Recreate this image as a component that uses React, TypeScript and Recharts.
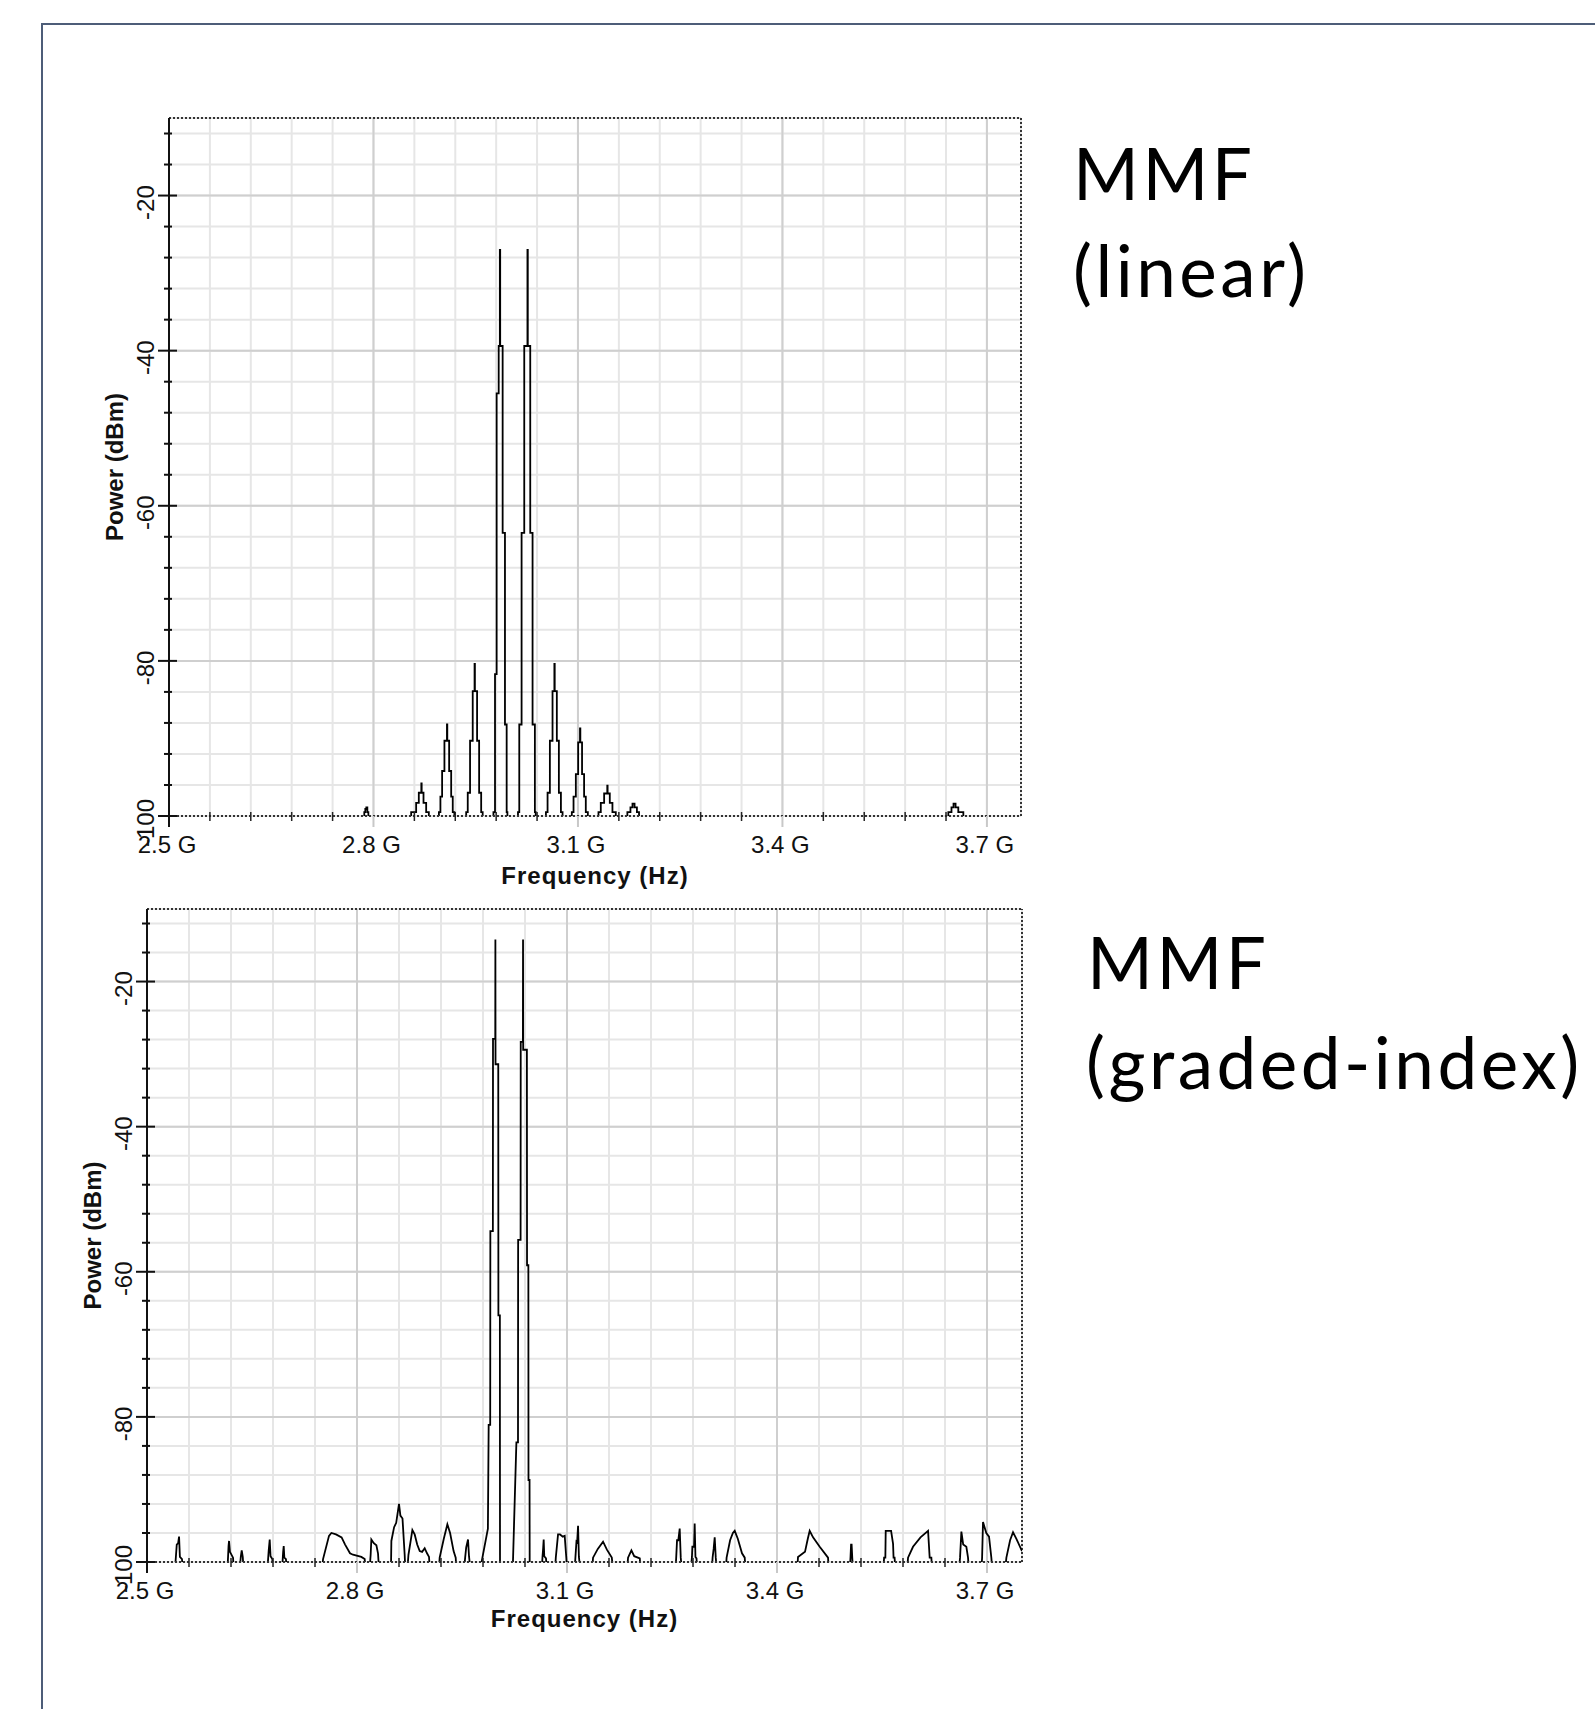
import React from 'react';
import { LineChart, Line, XAxis, YAxis, CartesianGrid, ReferenceLine } from 'recharts';

// ---- axis ticks ----
const yTicks = [-100, -96, -92, -88, -84, -80, -76, -72, -68, -64, -60, -56, -52, -48, -44, -40, -36, -32, -28, -24, -20, -16, -12];
const yMajorTicks = [-20, -40, -60, -80];
const xTicks = [2.5, 2.56, 2.62, 2.68, 2.74, 2.8, 2.86, 2.92, 2.98, 3.04, 3.1, 3.16, 3.22, 3.28, 3.34, 3.4, 3.46, 3.52, 3.58, 3.64, 3.7];
const xMajorTicks = [2.5, 2.8, 3.1, 3.4, 3.7];

// ---- MMF (linear) spectrum, GHz / dBm (drawn as steps) ----
const linearFreq = [
  2.5,
  2.7865, 2.788, 2.7895, 2.791, 2.7925,
  2.8553, 2.8626, 2.8665, 2.8702, 2.8707, 2.8734, 2.8773, 2.8812,
  2.896, 2.8982, 2.9007, 2.9041, 2.9078, 2.9083, 2.911, 2.914, 2.9163, 2.9187,
  2.936, 2.9383, 2.9417, 2.9456, 2.9483, 2.9488, 2.952, 2.955, 2.958, 2.9602,
  2.976, 2.9783, 2.9807, 2.9837, 2.9854, 2.9859, 2.9895, 2.9929, 2.9954, 2.9965,
  3.012, 3.0139, 3.0173, 3.0212, 3.0259, 3.0264, 3.03, 3.0334, 3.0368, 3.038,
  3.053, 3.0554, 3.0588, 3.0627, 3.0654, 3.0659, 3.069, 3.072, 3.075, 3.0774,
  3.091, 3.0935, 3.0969, 3.1003, 3.103, 3.1035, 3.106, 3.109, 3.1115, 3.1145,
  3.1301, 3.1335, 3.1384, 3.143, 3.1435, 3.1467, 3.1506, 3.1555,
  3.1725, 3.177, 3.18, 3.183, 3.1865, 3.1896,
  3.6434, 3.648, 3.651, 3.654, 3.658, 3.6654,
  3.75,
];
const linearPower = [
  -110,
  -99.5, -99.1, -98.9, -99.5, -110,
  -99.5, -98.3, -97.0, -95.8, -97.0, -98.3, -99.5, -110,
  -99.5, -97.5, -94.2, -90.3, -88.2, -90.3, -94.2, -97.5, -99.5, -110,
  -99.5, -97.0, -90.3, -83.9, -80.4, -83.9, -90.3, -97.0, -99.5, -110,
  -99.5, -81.7, -45.5, -39.4, -27.0, -39.4, -63.5, -88.2, -99.5, -110,
  -99.5, -88.2, -63.5, -39.4, -27.0, -39.4, -63.5, -88.2, -99.5, -110,
  -99.5, -97.0, -90.3, -83.9, -80.4, -83.9, -90.3, -97.0, -99.5, -110,
  -99.5, -97.5, -94.6, -90.5, -88.7, -90.5, -94.6, -97.5, -99.5, -110,
  -99.5, -98.3, -97.1, -96.1, -97.1, -98.3, -99.5, -110,
  -99.5, -98.9, -98.4, -98.9, -99.5, -110,
  -99.5, -98.9, -98.4, -98.9, -99.5, -110,
  -110,
];

// ---- MMF (graded-index) spectrum, GHz / dBm ----
const gradedFreq = [
  2.5,
  2.54, 2.5425, 2.5445, 2.5458, 2.547, 2.55, 2.551,
  2.615, 2.6165, 2.6172, 2.6185, 2.6229, 2.624,
  2.6325, 2.634, 2.6353, 2.6368, 2.638,
  2.672, 2.6738, 2.6753, 2.6765, 2.679, 2.68,
  2.693, 2.6945, 2.6953, 2.6962, 2.6985, 2.6995,
  2.75, 2.7515, 2.76, 2.7634, 2.77, 2.778, 2.783, 2.79, 2.7943, 2.8062, 2.811, 2.812,
  2.818, 2.8195, 2.8205, 2.824, 2.8277, 2.83, 2.8315,
  2.8485, 2.8491, 2.853, 2.856, 2.86, 2.862, 2.865, 2.8681, 2.869,
  2.872, 2.8735, 2.8791, 2.8824, 2.886, 2.8896, 2.893, 2.8967, 2.9, 2.9029, 2.904,
  2.917, 2.9181, 2.924, 2.9291, 2.933, 2.938, 2.941, 2.942,
  2.953, 2.9545, 2.956, 2.9586, 2.96, 2.962,
  2.976, 2.987, 2.9881, 2.9903, 2.9905, 2.9941, 2.9943, 2.9975, 2.9977, 2.9979, 3.0018, 3.002, 3.0041, 3.0043,
  3.0225, 3.0277, 3.03, 3.0302, 3.0337, 3.0339, 3.037, 3.0372, 3.0374, 3.0427, 3.0429, 3.0448, 3.045, 3.0465, 3.0467,
  3.064, 3.065, 3.066, 3.0667, 3.0675, 3.07, 3.071,
  3.083, 3.084, 3.0872, 3.09, 3.094, 3.0967, 3.099, 3.1,
  3.111, 3.112, 3.1135, 3.1145, 3.1158, 3.117, 3.119,
  3.136, 3.1372, 3.144, 3.1515, 3.157, 3.164, 3.1658,
  3.186, 3.1872, 3.192, 3.196, 3.204, 3.205,
  3.255, 3.256, 3.2572, 3.259, 3.261, 3.2625, 3.264,
  3.277, 3.2785, 3.2791, 3.2815, 3.2824, 3.2835, 3.285, 3.286,
  3.307, 3.308, 3.3095, 3.311, 3.3125, 3.314,
  3.327, 3.328, 3.333, 3.337, 3.3396, 3.344, 3.35, 3.3539, 3.355,
  3.429, 3.43, 3.44, 3.444, 3.4467, 3.4515, 3.461, 3.4729, 3.474,
  3.504, 3.505, 3.5058, 3.5066, 3.5075, 3.5085,
  3.552, 3.553, 3.5548, 3.5553, 3.563, 3.5658, 3.5665, 3.568, 3.569,
  3.586, 3.5872, 3.5943, 3.605, 3.6158, 3.6181, 3.6205, 3.6215,
  3.66, 3.6615, 3.6634, 3.666, 3.6705, 3.6729, 3.674,
  3.692, 3.693, 3.6943, 3.699, 3.7029, 3.7062, 3.7075,
  3.726, 3.7277, 3.733, 3.7372, 3.742, 3.75,
];
const gradedPower = [
  -101,
  -101, -97.6, -97.4, -96.5, -99.3, -99.6, -101,
  -101, -97.8, -97.1, -98.6, -99.4, -101,
  -101, -99.3, -98.4, -99.3, -101,
  -101, -98.5, -96.9, -99.2, -99.6, -101,
  -101, -98.6, -97.8, -99.4, -99.6, -101,
  -101, -99.6, -96.4, -96.0, -96.2, -96.6, -97.6, -98.8, -99.0, -99.3, -99.6, -101,
  -101, -99.0, -96.9, -97.4, -97.7, -98.8, -101,
  -101, -97.1, -95.2, -94.6, -92.0, -93.6, -94.0, -99.0, -101,
  -101, -99.0, -95.6, -96.2, -97.6, -98.5, -98.6, -98.1, -98.8, -99.3, -101,
  -101, -99.4, -96.8, -94.8, -96.0, -98.5, -99.4, -101,
  -101, -99.4, -98.0, -96.9, -99.2, -101,
  -101, -95.4, -81.1, -81.1, -54.4, -54.4, -27.9, -27.9, -14.2, -31.4, -31.4, -66.0, -66.0, -101,
  -101, -83.5, -83.5, -55.6, -55.6, -28.3, -28.3, -14.2, -29.4, -29.4, -59.1, -59.1, -88.7, -88.7, -101,
  -101, -99.3, -98.0, -96.9, -99.2, -99.5, -101,
  -101, -99.4, -96.2, -96.2, -96.5, -96.4, -99.4, -101,
  -101, -99.4, -97.2, -97.3, -95.0, -99.3, -101,
  -101, -99.4, -98.2, -97.2, -98.3, -99.4, -101,
  -101, -99.4, -98.4, -99.2, -99.5, -101,
  -101, -99.4, -97.0, -97.0, -95.4, -99.4, -101,
  -101, -99.3, -97.9, -97.9, -94.7, -99.3, -99.5, -101,
  -101, -99.4, -98.2, -96.6, -99.4, -101,
  -101, -99.4, -97.0, -96.0, -95.7, -96.8, -98.8, -99.4, -101,
  -101, -99.3, -98.6, -96.8, -95.7, -96.6, -97.9, -99.4, -101,
  -101, -99.4, -97.6, -97.6, -99.4, -101,
  -101, -99.4, -99.4, -95.7, -95.7, -97.5, -99.4, -99.4, -101,
  -101, -99.4, -97.9, -96.6, -95.7, -99.4, -99.4, -101,
  -101, -99.4, -95.8, -97.6, -97.9, -99.4, -101,
  -101, -99.4, -94.5, -96.0, -96.5, -99.4, -101,
  -101, -99.4, -97.0, -95.9, -96.8, -98.5,
];

const linearData = linearFreq.map((f, i) => ({ f, p: linearPower[i] }));
const gradedData = gradedFreq.map((f, i) => ({ f, p: gradedPower[i] }));

const AXIS_FONT = '"Liberation Sans", Arial, sans-serif';
const SLIDE_FONT = 'Lato, "Open Sans", sans-serif';
const Y_AXIS_W = 60;
const X_AXIS_H = 60;

const isMajorX = (v: number) => xMajorTicks.some((m) => Math.abs(m - v) < 1e-6);

function YTick(props: any) {
  const { x, y, payload } = props;
  const v = payload.value;
  const major = v % 20 === 0;
  return (
    <g>
      <line x1={x - (major ? 11 : 5)} x2={x + (major ? 8 : 3)} y1={y} y2={y} stroke="#111" strokeWidth={2} />
      {major && (
        <text
          transform={`translate(${x - 15},${y + 7}) rotate(-90)`}
          textAnchor="middle"
          fontSize={24}
          fontFamily={AXIS_FONT}
          fill="#111"
        >
          {v}
        </text>
      )}
    </g>
  );
}

function XTick(props: any) {
  const { x, y, payload } = props;
  const v = payload.value;
  if (!isMajorX(v)) {
    return <line x1={x} x2={x} y1={y - 4} y2={y + 5} stroke="#222" strokeWidth={1.5} />;
  }
  return (
    <g>
      <line x1={x} x2={x} y1={y} y2={y + 11} stroke={v === 2.5 ? '#111' : '#c8c8c8'} strokeWidth={2} />
      <text x={x - 2} y={y + 37} textAnchor="middle" fontSize={24} fontFamily={AXIS_FONT} fill="#111">
        {v.toFixed(1)} G
      </text>
    </g>
  );
}

type Rect = { left: number; top: number; right: number; bottom: number };
type Box = { x: number; y: number; w: number; h: number };

function Spectrum({ data, plot, box, curve }: { data: any[]; plot: Rect; box: Box; curve: any }) {
  const margin = {
    left: plot.left - box.x - Y_AXIS_W,
    top: plot.top - box.y,
    right: box.x + box.w - plot.right,
    bottom: box.y + box.h - plot.bottom - X_AXIS_H,
  };
  return (
    <div style={{ position: 'absolute', left: box.x, top: box.y }}>
      <LineChart width={box.w} height={box.h} data={data} margin={margin}>
        <CartesianGrid stroke="#e6e6e6" strokeWidth={2} />
        <XAxis
          dataKey="f"
          type="number"
          domain={[2.5, 3.75]}
          allowDataOverflow
          ticks={xTicks}
          interval={0}
          height={X_AXIS_H}
          tickSize={0}
          tickMargin={0}
          tick={<XTick />}
          axisLine={{ stroke: '#333', strokeWidth: 2, strokeDasharray: '2 2' }}
        />
        <YAxis
          type="number"
          domain={[-100, -10]}
          allowDataOverflow
          ticks={yTicks}
          interval={0}
          width={Y_AXIS_W}
          tickSize={0}
          tickMargin={0}
          tick={<YTick />}
          axisLine={{ stroke: '#111', strokeWidth: 2 }}
        />
        {yMajorTicks.map((v) => (
          <ReferenceLine key={`y${v}`} y={v} stroke="#cfcfcf" strokeWidth={2} />
        ))}
        {xMajorTicks.slice(1).map((v) => (
          <ReferenceLine key={`x${v}`} x={v} stroke="#cfcfcf" strokeWidth={2} />
        ))}
        <ReferenceLine y={-10} stroke="#333" strokeWidth={2} strokeDasharray="2 2" />
        <ReferenceLine x={3.75} stroke="#333" strokeWidth={2} strokeDasharray="2 2" />
        <Line
          dataKey="p"
          type={curve}
          stroke="#000"
          strokeWidth={1.8}
          dot={false}
          activeDot={false}
          isAnimationActive={false}
        />
      </LineChart>
    </div>
  );
}

const plotLinear: Rect = { left: 169, top: 118, right: 1021, bottom: 816 };
const plotGraded: Rect = { left: 147, top: 909, right: 1022, bottom: 1562 };

function AxisTitles({ plot, xGap, yGap }: { plot: Rect; xGap: number; yGap: number }) {
  const cx = (plot.left + plot.right) / 2;
  const cy = (plot.top + plot.bottom) / 2;
  return (
    <g fontFamily={AXIS_FONT} fontWeight="bold" fontSize={24} fill="#111">
      <text x={cx} y={plot.bottom + xGap} textAnchor="middle" letterSpacing={1}>
        Frequency (Hz)
      </text>
      <text transform={`translate(${plot.left - yGap},${cy}) rotate(-90)`} textAnchor="middle">
        Power (dBm)
      </text>
    </g>
  );
}

export default function App() {
  return (
    <div
      style={{
        position: 'absolute',
        left: 0,
        top: 0,
        width: 1595,
        height: 1709,
        overflow: 'hidden',
        background: '#fff',
      }}
    >
      <div
        style={{
          position: 'absolute',
          left: 41,
          top: 23,
          width: 1600,
          height: 1720,
          borderTop: '2px solid #4d5d78',
          borderLeft: '2px solid #4d5d78',
        }}
      />
      <Spectrum data={linearData} plot={plotLinear} box={{ x: 40, y: 90, w: 1020, h: 830 }} curve="stepAfter" />
      <Spectrum data={gradedData} plot={plotGraded} box={{ x: 40, y: 880, w: 1020, h: 820 }} curve="linear" />
      <svg width={1595} height={1709} style={{ position: 'absolute', left: 0, top: 0, pointerEvents: 'none' }}>
        <AxisTitles plot={plotLinear} xGap={68} yGap={46} />
        <AxisTitles plot={plotGraded} xGap={65} yGap={46} />
        <g fontFamily={SLIDE_FONT} fontSize={71} fill="#000" letterSpacing={3.5}>
          <text x={1073} y={200}>MMF</text>
          <text x={1073} y={297}>(linear)</text>
          <text x={1087} y={989}>MMF</text>
          <text x={1086} y={1089}>(graded-index)</text>
        </g>
      </svg>
    </div>
  );
}
